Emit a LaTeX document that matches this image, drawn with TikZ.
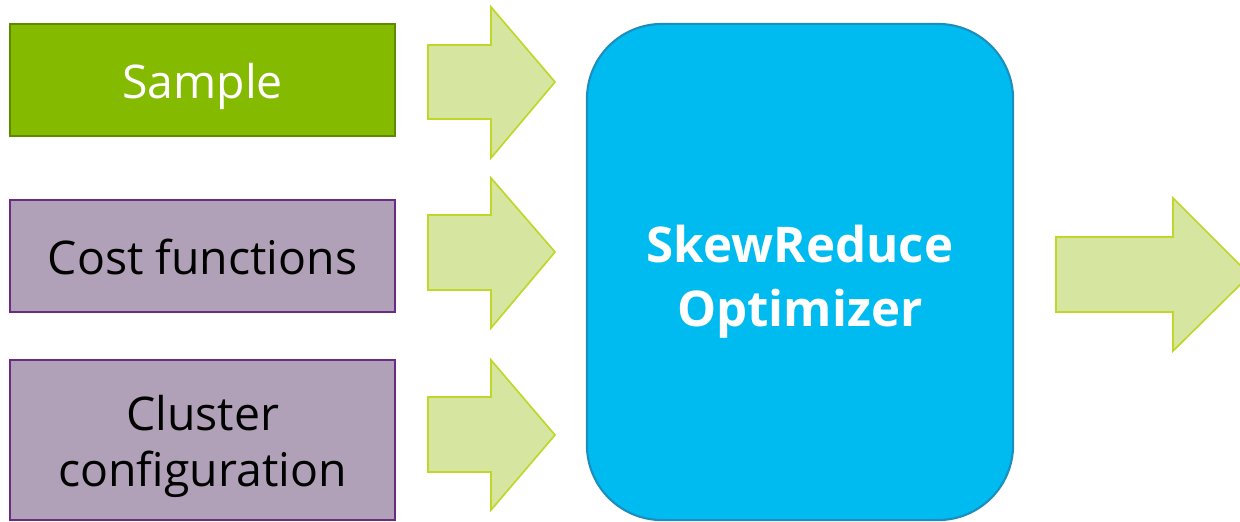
\documentclass[tikz,border=0pt]{standalone}
\usepackage{fontspec}
\setmainfont{Open Sans}
\definecolor{samplefill}{HTML}{84BA00}
\definecolor{sampleline}{HTML}{5E8A00}
\definecolor{costfill}{HTML}{B1A1B8}
\definecolor{costline}{HTML}{6A2C80}
\definecolor{optfill}{HTML}{00BBF0}
\definecolor{optline}{HTML}{1B8EBE}
\definecolor{arrowfill}{HTML}{D6E6A0}
\definecolor{arrowline}{HTML}{BED72A}
\tikzset{
  inbox/.style={draw, line width=1.5pt, minimum width=9.625cm, align=center,
    font=\fontsize{33}{40.5}\selectfont, text height=34.4pt, text depth=8pt},
  blockarrow/.style={draw=arrowline, fill=arrowfill, line width=1.2pt, line join=miter}
}
\begin{document}
\begin{tikzpicture}[x=0.025cm, y=-0.025cm]
  \useasboundingbox (0, 0) rectangle (1240, 521);
  \clip (0, 0) rectangle (1240, 521);
  \node[inbox, draw=sampleline, fill=samplefill, text=white, minimum height=2.8cm] (sample) at (202.5, 80) {Sample};
  \node[inbox, draw=costline, fill=costfill, minimum height=2.8cm] (cost) at (202.5, 256) {Cost functions};
  \node[inbox, draw=costline, fill=costfill, minimum height=4cm, text height=74.8pt] (cluster) at (202.5, 440) {Cluster\\configuration};
  \node[draw=optline, fill=optfill, line width=1.5pt, rounded corners=1.875cm,
    minimum width=10.65cm, minimum height=12.4cm, text=white, align=center,
    font=\fontsize{35}{45.5}\selectfont\bfseries, text height=84.8pt, text depth=8pt] (optimizer) at (800, 272) {SkewReduce\\Optimizer};
  \draw[blockarrow] (428, 45) -- (491, 45) -- (491, 7) -- (555, 82) -- (491, 158) -- (491, 119) -- (428, 119) -- cycle;
  \draw[blockarrow] (428, 215) -- (491, 215) -- (491, 178) -- (555, 252) -- (491, 328) -- (491, 290) -- (428, 290) -- cycle;
  \draw[blockarrow] (428, 397) -- (491, 397) -- (491, 360) -- (555, 435) -- (491, 510) -- (491, 472) -- (428, 472) -- cycle;
  \draw[blockarrow] (1056, 237) -- (1173, 237) -- (1173, 198) -- (1250, 275) -- (1173, 351) -- (1173, 312) -- (1056, 312) -- cycle;
\end{tikzpicture}
\end{document}
